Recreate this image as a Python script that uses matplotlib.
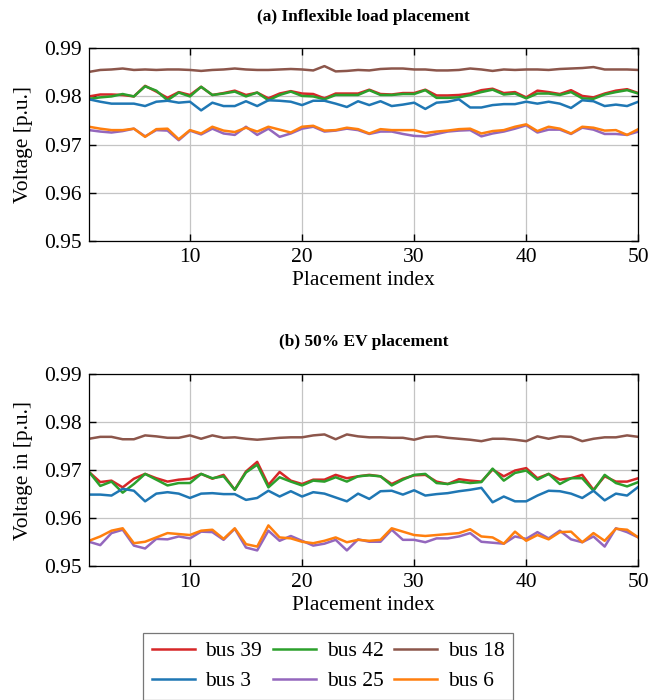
import matplotlib
matplotlib.use("Agg")
import matplotlib.pyplot as plt

plt.rcParams['font.family'] = ['Liberation Serif', 'DejaVu Serif']
plt.rcParams['mathtext.fontset'] = 'stix'

idx = list(range(1, 51))
labels = ["bus 39", "bus 42", "bus 18", "bus 3", "bus 25", "bus 6"]
colors = ["#d62728", "#2ca02c", "#8c564b", "#1f77b4", "#9467bd", "#ff7f0e"]
yticks = [0.95, 0.96, 0.97, 0.98, 0.99]
xticks = [10, 20, 30, 40, 50]

# (a) inflexible load placement
inflex_bus39 = [0.9800, 0.9804, 0.9804, 0.9803, 0.9800, 0.9822, 0.9810, 0.9797, 0.9809, 0.9803, 0.9820, 0.9803, 0.9807, 0.9812, 0.9803, 0.9808, 0.9796,
                0.9806, 0.9811, 0.9806, 0.9805, 0.9796, 0.9806, 0.9806, 0.9806, 0.9814, 0.9805, 0.9804, 0.9807, 0.9807, 0.9814, 0.9802, 0.9802,
                0.9803, 0.9806, 0.9813, 0.9816, 0.9807, 0.9809, 0.9798, 0.9812, 0.9809, 0.9805, 0.9813, 0.9801, 0.9798, 0.9806, 0.9812, 0.9815, 0.9807]
inflex_bus42 = [0.9795, 0.9798, 0.9800, 0.9805, 0.9800, 0.9821, 0.9812, 0.9792, 0.9808, 0.9800, 0.9820, 0.9803, 0.9806, 0.9810, 0.9800, 0.9808, 0.9792,
                0.9803, 0.9810, 0.9801, 0.9800, 0.9794, 0.9803, 0.9803, 0.9803, 0.9813, 0.9803, 0.9803, 0.9805, 0.9805, 0.9813, 0.9797, 0.9797,
                0.9798, 0.9803, 0.9809, 0.9814, 0.9804, 0.9806, 0.9796, 0.9806, 0.9806, 0.9803, 0.9809, 0.9796, 0.9795, 0.9804, 0.9809, 0.9813, 0.9806]
inflex_bus18 = [0.9851, 0.9855, 0.9856, 0.9858, 0.9855, 0.9856, 0.9855, 0.9856, 0.9856, 0.9855, 0.9853, 0.9855, 0.9856, 0.9858, 0.9856, 0.9855, 0.9855,
                0.9856, 0.9857, 0.9856, 0.9854, 0.9863, 0.9852, 0.9853, 0.9855, 0.9854, 0.9857, 0.9858, 0.9858, 0.9856, 0.9856, 0.9854, 0.9854,
                0.9855, 0.9858, 0.9856, 0.9853, 0.9856, 0.9855, 0.9856, 0.9856, 0.9855, 0.9857, 0.9858, 0.9859, 0.9861, 0.9856, 0.9856, 0.9856, 0.9855]
inflex_bus3 = [0.9794, 0.9789, 0.9785, 0.9785, 0.9785, 0.9780, 0.9789, 0.9791, 0.9787, 0.9789, 0.9771, 0.9787, 0.9780, 0.9780, 0.9790, 0.9780, 0.9792,
               0.9791, 0.9789, 0.9782, 0.9791, 0.9791, 0.9785, 0.9778, 0.9790, 0.9782, 0.9790, 0.9780, 0.9783, 0.9787, 0.9774, 0.9787, 0.9789,
               0.9794, 0.9777, 0.9777, 0.9782, 0.9784, 0.9784, 0.9789, 0.9785, 0.9789, 0.9785, 0.9776, 0.9792, 0.9790, 0.9780, 0.9783, 0.9780, 0.9789]
inflex_bus25 = [0.9730, 0.9727, 0.9725, 0.9728, 0.9733, 0.9717, 0.9730, 0.9729, 0.9709, 0.9729, 0.9721, 0.9733, 0.9723, 0.9720, 0.9737, 0.9720, 0.9733,
                0.9716, 0.9723, 0.9733, 0.9737, 0.9727, 0.9729, 0.9733, 0.9730, 0.9722, 0.9727, 0.9727, 0.9722, 0.9718, 0.9717, 0.9722, 0.9727,
                0.9729, 0.9730, 0.9717, 0.9723, 0.9727, 0.9733, 0.9740, 0.9725, 0.9731, 0.9731, 0.9722, 0.9735, 0.9731, 0.9722, 0.9722, 0.9720, 0.9727]
inflex_bus6 = [0.9737, 0.9733, 0.9730, 0.9730, 0.9733, 0.9716, 0.9732, 0.9733, 0.9711, 0.9730, 0.9723, 0.9737, 0.9729, 0.9726, 0.9735, 0.9727, 0.9737,
               0.9731, 0.9725, 0.9737, 0.9739, 0.9729, 0.9730, 0.9735, 0.9732, 0.9723, 0.9732, 0.9730, 0.9730, 0.9730, 0.9724, 0.9727, 0.9729,
               0.9732, 0.9733, 0.9723, 0.9728, 0.9730, 0.9737, 0.9742, 0.9728, 0.9737, 0.9733, 0.9723, 0.9737, 0.9735, 0.9729, 0.9730, 0.9720, 0.9732]

# (b) 50% EV placement
ev_bus39 = [0.9696, 0.9675, 0.9678, 0.9664, 0.9682, 0.9692, 0.9683, 0.9676, 0.9680, 0.9682, 0.9692, 0.9682, 0.9690, 0.9659, 0.9697, 0.9717, 0.9669,
            0.9696, 0.9678, 0.9671, 0.9680, 0.9680, 0.9690, 0.9683, 0.9687, 0.9690, 0.9687, 0.9671, 0.9682, 0.9689, 0.9690, 0.9676, 0.9671,
            0.9681, 0.9678, 0.9676, 0.9701, 0.9687, 0.9699, 0.9704, 0.9683, 0.9692, 0.9680, 0.9683, 0.9690, 0.9659, 0.9687, 0.9676, 0.9676, 0.9683]
ev_bus42 = [0.9696, 0.9667, 0.9676, 0.9653, 0.9671, 0.9692, 0.9680, 0.9668, 0.9673, 0.9673, 0.9692, 0.9683, 0.9687, 0.9659, 0.9695, 0.9711, 0.9664,
            0.9685, 0.9676, 0.9668, 0.9678, 0.9676, 0.9685, 0.9676, 0.9687, 0.9689, 0.9687, 0.9668, 0.9680, 0.9690, 0.9692, 0.9673, 0.9671,
            0.9676, 0.9673, 0.9675, 0.9703, 0.9678, 0.9694, 0.9699, 0.9680, 0.9692, 0.9671, 0.9683, 0.9683, 0.9657, 0.9690, 0.9673, 0.9666, 0.9675]
ev_bus18 = [0.9765, 0.9769, 0.9769, 0.9764, 0.9764, 0.9772, 0.9770, 0.9767, 0.9767, 0.9772, 0.9765, 0.9772, 0.9767, 0.9768, 0.9765, 0.9763, 0.9765,
            0.9767, 0.9768, 0.9768, 0.9772, 0.9774, 0.9764, 0.9774, 0.9770, 0.9768, 0.9768, 0.9767, 0.9767, 0.9763, 0.9769, 0.9770, 0.9767,
            0.9765, 0.9763, 0.9760, 0.9765, 0.9765, 0.9763, 0.9760, 0.9770, 0.9765, 0.9770, 0.9769, 0.9760, 0.9765, 0.9768, 0.9768, 0.9772, 0.9769]
ev_bus3 = [0.9649, 0.9649, 0.9647, 0.9661, 0.9657, 0.9635, 0.9651, 0.9654, 0.9651, 0.9642, 0.9651, 0.9652, 0.9650, 0.9650, 0.9638, 0.9642, 0.9657,
           0.9645, 0.9656, 0.9645, 0.9654, 0.9651, 0.9643, 0.9635, 0.9651, 0.9640, 0.9656, 0.9657, 0.9649, 0.9658, 0.9647, 0.9650, 0.9652,
           0.9656, 0.9659, 0.9663, 0.9633, 0.9645, 0.9635, 0.9635, 0.9647, 0.9657, 0.9656, 0.9651, 0.9642, 0.9657, 0.9637, 0.9651, 0.9647, 0.9665]
ev_bus25 = [0.9551, 0.9544, 0.9569, 0.9576, 0.9543, 0.9537, 0.9557, 0.9556, 0.9562, 0.9558, 0.9572, 0.9571, 0.9555, 0.9578, 0.9539, 0.9533, 0.9574,
            0.9553, 0.9563, 0.9553, 0.9543, 0.9547, 0.9555, 0.9533, 0.9556, 0.9551, 0.9551, 0.9576, 0.9555, 0.9555, 0.9550, 0.9558, 0.9558,
            0.9562, 0.9569, 0.9551, 0.9549, 0.9547, 0.9562, 0.9557, 0.9571, 0.9558, 0.9574, 0.9556, 0.9550, 0.9562, 0.9541, 0.9579, 0.9571, 0.9560]
ev_bus6 = [0.9553, 0.9562, 0.9574, 0.9579, 0.9548, 0.9551, 0.9560, 0.9569, 0.9567, 0.9565, 0.9574, 0.9576, 0.9557, 0.9579, 0.9546, 0.9541, 0.9585,
           0.9560, 0.9558, 0.9551, 0.9548, 0.9553, 0.9560, 0.9550, 0.9555, 0.9553, 0.9555, 0.9579, 0.9572, 0.9565, 0.9563, 0.9565, 0.9567,
           0.9569, 0.9577, 0.9562, 0.9560, 0.9547, 0.9572, 0.9553, 0.9565, 0.9556, 0.9571, 0.9572, 0.9550, 0.9569, 0.9553, 0.9578, 0.9576, 0.9560]

inflex = [inflex_bus39, inflex_bus42, inflex_bus18, inflex_bus3, inflex_bus25, inflex_bus6]
ev = [ev_bus39, ev_bus42, ev_bus18, ev_bus3, ev_bus25, ev_bus6]

fs = 15.5

fig = plt.figure(figsize=(6.5, 7), dpi=100)
ax1 = fig.add_axes([0.137, 0.656, 0.845, 0.275])
ax2 = fig.add_axes([0.137, 0.191, 0.845, 0.275])


def panel(ax, series, title, ylabel):
    lines = []
    for s, lab, c in zip(series, labels, colors):
        l, = ax.plot(idx, s, color=c, lw=1.8, label=lab)
        lines.append(l)
    ax.set_xlim(1, 50)
    ax.set_ylim(0.95, 0.99)
    ax.set_xticks(xticks)
    ax.set_yticks(yticks)
    ax.set_yticklabels(["%.2f" % t for t in yticks])
    ax.grid(True, color="#c4c4c4", lw=0.9)
    ax.set_axisbelow(True)
    ax.tick_params(direction="in", top=True, right=True, length=5, width=1,
                   labelsize=fs, pad=5)
    for sp in ax.spines.values():
        sp.set_linewidth(0.9)
    ax.set_title(title, fontweight="bold", fontsize=12.5, pad=20)
    ax.set_xlabel("Placement index", fontsize=fs, labelpad=3)
    ax.set_ylabel(ylabel, fontsize=fs, labelpad=8)
    return lines


lines = panel(ax1, inflex, "(a) Inflexible load placement", "Voltage [p.u.]")
panel(ax2, ev, "(b) 50% EV placement", "Voltage in [p.u.]")

# reorder so legend fills row by row
order = [0, 3, 1, 4, 2, 5]
leg = fig.legend([lines[i] for i in order], [labels[i] for i in order],
                 loc="upper center", bbox_to_anchor=(0.505, 0.096), ncol=3,
                 borderaxespad=0, fontsize=fs, fancybox=False,
                 edgecolor="#555555", handlelength=2.0, columnspacing=0.5,
                 handletextpad=0.5, borderpad=0.4, labelspacing=0.45)
leg.get_frame().set_linewidth(0.9)

fig.savefig("out.png", dpi=100)
